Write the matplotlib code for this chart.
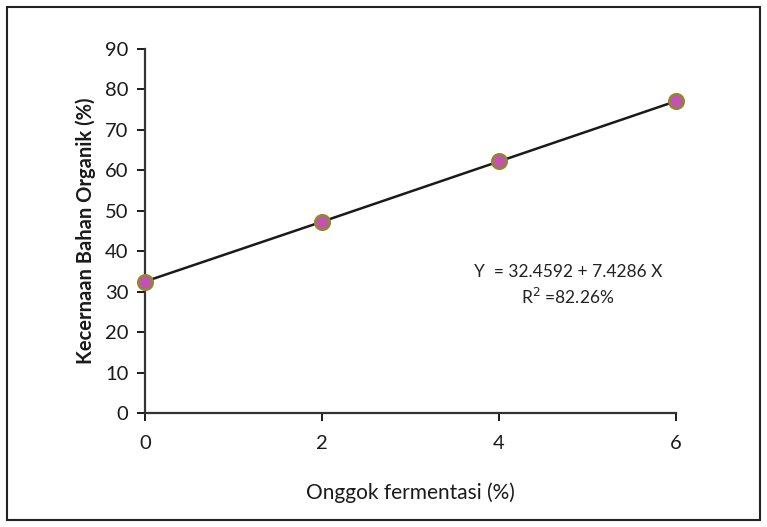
import matplotlib
matplotlib.use("Agg")
import matplotlib.pyplot as plt
from matplotlib.patches import Rectangle

x_vals = [0, 2, 4, 6]
y_vals = [32.5, 47.3, 62.2, 77.1]
x_ticks = [0, 2, 4, 6]
y_ticks = [0, 10, 20, 30, 40, 50, 60, 70, 80, 90]

plt.rcParams['font.family'] = ['Lato', 'DejaVu Sans']

fig = plt.figure(figsize=(7.67, 5.27), dpi=100)
ax = fig.add_axes([145/767, 1-413/527, (676-145)/767, (413-49)/527])

ax.plot(x_vals, y_vals, color='#1a1a1a', lw=1.8, zorder=2, clip_on=False)
ax.plot(x_vals, y_vals, 'o', ms=10.5, mfc='#C452B0', mec='#8C8C2C', mew=1.8, zorder=3, clip_on=False, ls='none')

ax.set_xlim(0, 6)
ax.set_ylim(0, 90)
ax.set_xticks(x_ticks)
ax.set_yticks(y_ticks)
ax.tick_params(axis='both', direction='out', length=6, width=1.4, labelsize=14.5, colors='#1a1a1a')
ax.tick_params(axis='y', pad=6)
ax.tick_params(axis='x', pad=10)
for s in ['top', 'right']:
    ax.spines[s].set_visible(False)
for s in ['left', 'bottom']:
    ax.spines[s].set_linewidth(1.6)
    ax.spines[s].set_color('#333333')

ax.set_xlabel('Onggok fermentasi (%)', fontsize=15, labelpad=22, color='#1a1a1a')
ax.set_ylabel('Kecernaan Bahan Organik (%)', fontsize=14.5, fontweight='bold', labelpad=6, color='#1a1a1a')

ax.text(4.78, 34.9, 'Y  = 32.4592 + 7.4286 X', fontsize=12.5, ha='center', va='center', color='#222222')
ax.text(4.78, 28.7, 'R$^2$ =82.26%', fontsize=12.5, ha='center', va='center', color='#222222')

fig.patches.append(Rectangle((7/767, 7/527), (760-7)/767, (520-7)/527, transform=fig.transFigure,
                             fill=False, edgecolor='#222222', lw=1.5))

fig.savefig('out.png', dpi=100)
